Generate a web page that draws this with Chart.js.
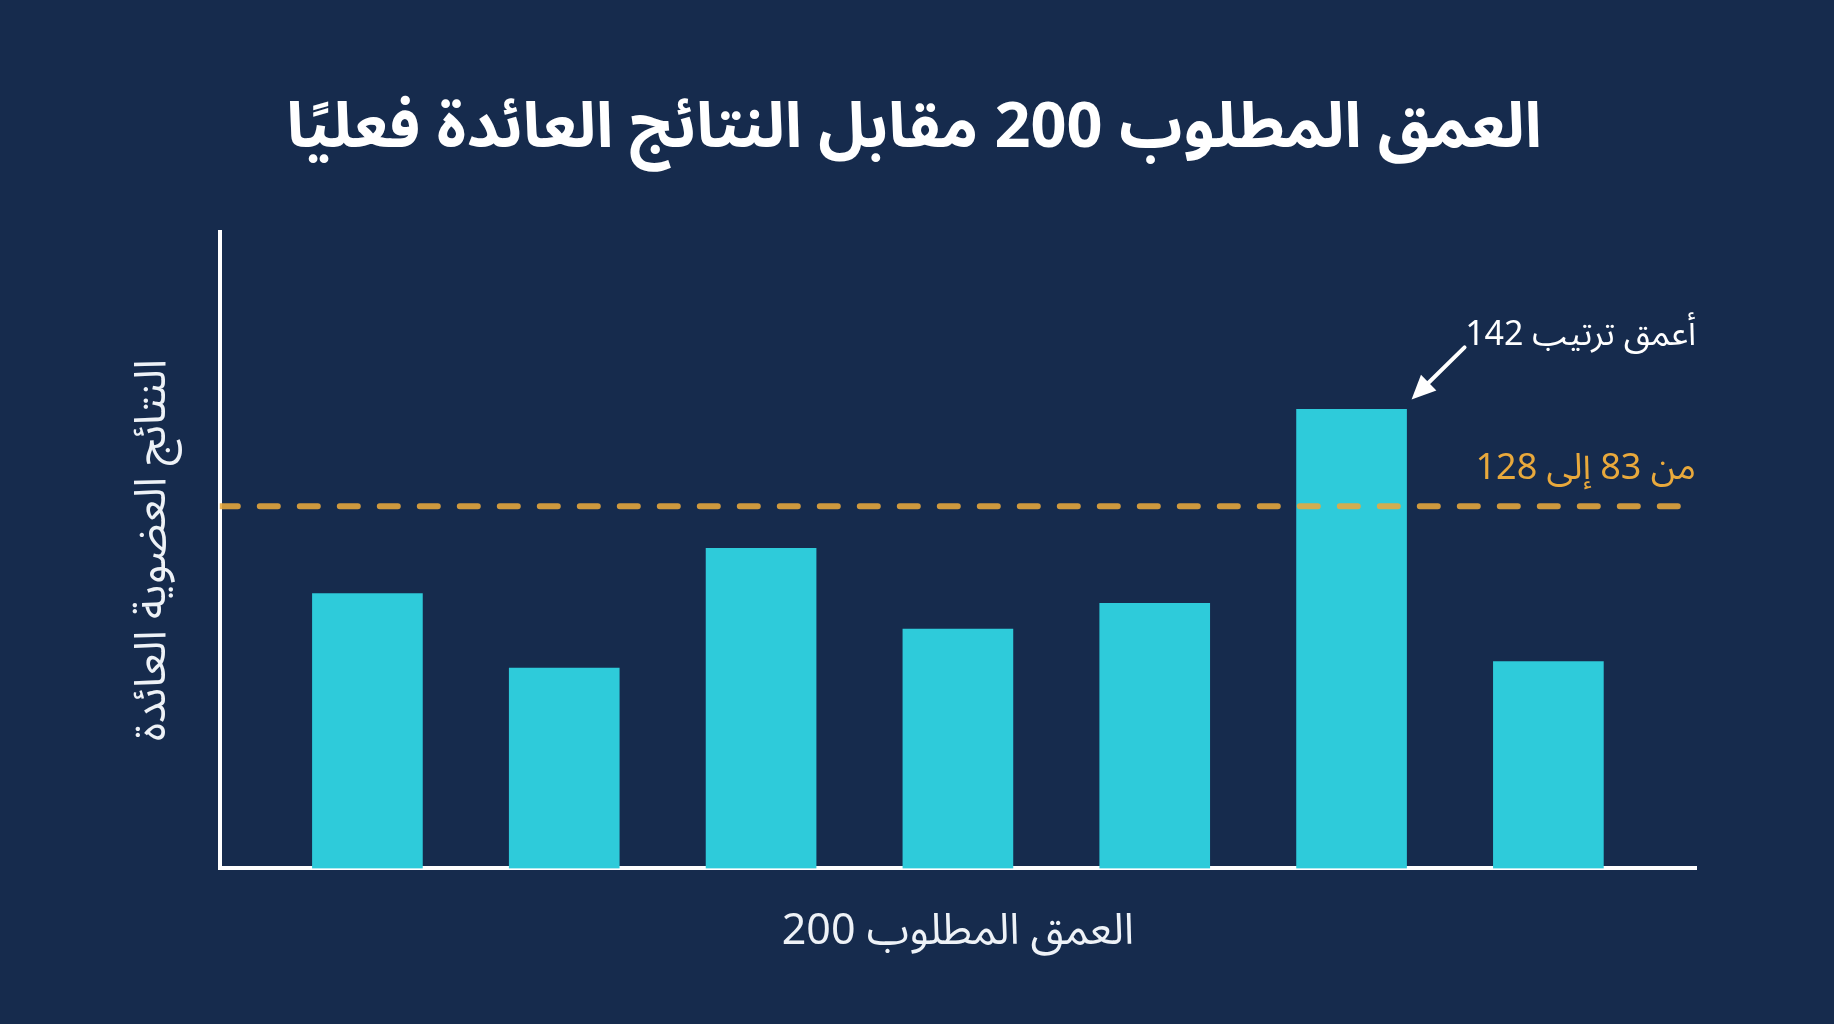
<!DOCTYPE html>
<html lang="ar">
<head>
<meta charset="utf-8">
<script src="https://cdn.jsdelivr.net/npm/chart.js@4.4.1/dist/chart.umd.min.js"></script>
<style>
  html, body { margin: 0; padding: 0; background: #162b4d; }
  #wrap { width: 1834px; height: 1024px; }
</style>
</head>
<body>
<div id="wrap"><canvas id="chart" width="1834" height="1024" dir="rtl"></canvas></div>
<script>
const categories = ["1", "2", "3", "4", "5", "6", "7"];
const returned = [85, 62, 99, 74, 82, 142, 64];
const rangeLine = 112;
const yMax = 197;

const titleText = "العمق المطلوب 200 مقابل النتائج العائدة فعليًا";
const xTitle = "العمق المطلوب 200";
const yTitle = "النتائج العضوية العائدة";
const deepestLabel = "أعمق ترتيب 142";
const rangeLabel = "من 83 إلى 128";

const FONT = "'Noto Sans Arabic', 'Noto Sans', 'DejaVu Sans', sans-serif";
const ORANGE = "#e9a93c";

// index of the tallest bar, for the arrow note
const peak = returned.indexOf(Math.max(...returned));

const notes = {
    id: "notes",
    afterDatasetsDraw(chart) {
        const ctx = chart.ctx;
        const area = chart.chartArea;
        const bar = chart.getDatasetMeta(1).data[peak];
        const lineY = chart.scales.y.getPixelForValue(rangeLine);

        ctx.save();
        ctx.direction = "rtl";
        ctx.textAlign = "right";
        ctx.textBaseline = "middle";

        ctx.font = "34px " + FONT;
        ctx.fillStyle = "#ffffff";
        ctx.fillText(deepestLabel, area.right, bar.y - 70);

        ctx.fillStyle = ORANGE;
        ctx.font = "36px " + FONT;
        ctx.fillText(rangeLabel, area.right, lineY - 33);

        // arrow pointing at the top corner of the tallest bar
        const tipX = bar.x + bar.width / 2 + 5;
        const tipY = bar.y - 10;
        const fromX = tipX + 53;
        const fromY = tipY - 52;
        const ang = Math.atan2(tipY - fromY, tipX - fromX);
        ctx.strokeStyle = "#ffffff";
        ctx.fillStyle = "#ffffff";
        ctx.lineWidth = 4;
        ctx.lineCap = "round";
        ctx.beginPath();
        ctx.moveTo(fromX, fromY);
        ctx.lineTo(tipX - 12 * Math.cos(ang), tipY - 12 * Math.sin(ang));
        ctx.stroke();
        ctx.beginPath();
        ctx.moveTo(tipX, tipY);
        ctx.lineTo(tipX - 24 * Math.cos(ang) + 11 * Math.sin(ang), tipY - 24 * Math.sin(ang) - 11 * Math.cos(ang));
        ctx.lineTo(tipX - 24 * Math.cos(ang) - 11 * Math.sin(ang), tipY - 24 * Math.sin(ang) + 11 * Math.cos(ang));
        ctx.closePath();
        ctx.fill();
        ctx.restore();
    }
};

const bg = {
    id: "bg",
    beforeDraw(chart) {
        const ctx = chart.ctx;
        ctx.save();
        ctx.fillStyle = "#162b4d";
        ctx.fillRect(0, 0, chart.width, chart.height);
        ctx.restore();
    }
};

new Chart(document.getElementById("chart").getContext("2d"), {
    data: {
        datasets: [
            {
                type: "line",
                data: [{ x: -0.75, y: rangeLine }, { x: categories.length - 0.25, y: rangeLine }],
                borderColor: "rgba(233,169,60,0.88)",
                borderWidth: 6,
                borderDash: [18, 22],
                borderCapStyle: "round",
                pointRadius: 0,
                order: 0
            },
            {
                type: "bar",
                data: returned.map((v, i) => ({ x: i, y: v })),
                backgroundColor: "#2ecbda",
                barThickness: 110,
                order: 1
            }
        ]
    },
    options: {
        responsive: false,
        animation: false,
        layout: { padding: { left: 132, right: 138, top: 0, bottom: 0 } },
        plugins: {
            legend: { display: false },
            tooltip: { enabled: false },
            title: {
                display: true,
                text: titleText,
                color: "#ffffff",
                font: { family: FONT, size: 63, weight: "bold" },
                padding: { top: 100, bottom: 56 }
            }
        },
        scales: {
            x: {
                type: "linear",
                offset: false,
                min: -0.75,
                max: categories.length - 0.25,
                grid: { display: false },
                ticks: { display: false },
                border: { display: true, color: "#ffffff", width: 4 },
                title: {
                    display: true,
                    text: xTitle,
                    color: "#eef2f7",
                    font: { family: FONT, size: 43 },
                    padding: { top: 35, bottom: 61 }
                }
            },
            y: {
                min: 0,
                max: yMax,
                grid: { display: false },
                ticks: { display: false },
                border: { display: true, color: "#ffffff", width: 4 },
                title: {
                    display: true,
                    text: yTitle,
                    color: "#eef2f7",
                    font: { family: FONT, size: 44 },
                    padding: { top: 0, bottom: 27 }
                }
            }
        }
    },
    plugins: [bg, notes]
});
</script>
</body>
</html>
